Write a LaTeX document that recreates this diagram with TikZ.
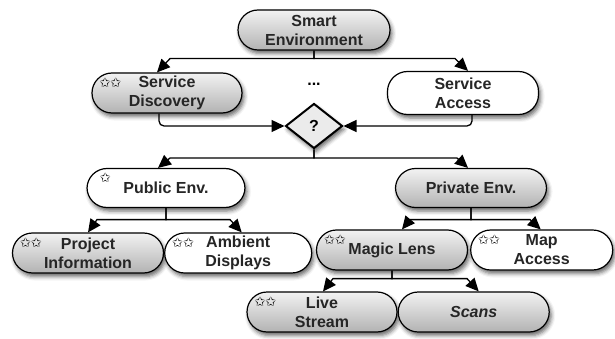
\documentclass[tikz,border=0pt]{standalone}
\usepackage{fontspec}
\setmainfont{Liberation Sans}
\newfontfamily\starfont{DejaVu Sans}
\usetikzlibrary{positioning,calc,arrows.meta,shapes.geometric,shadows.blur}

\tikzset{
  box/.style={draw, line width=1.2pt, rounded corners=20pt,
    minimum height=40pt, minimum width=150pt, inner sep=2pt, align=center,
    font=\fontsize{16}{19}\selectfont\bfseries, text=black!85,
    blur shadow={shadow xshift=2pt, shadow yshift=-3.5pt,
      shadow blur radius=4pt, shadow opacity=60}},
  greybox/.style={box, top color=black!5, bottom color=black!30},
  whitebox/.style={box, fill=white},
  rating/.style={font=\starfont\fontsize{13}{13}\selectfont, anchor=center,
    inner sep=0pt, xshift=19pt, yshift=-10pt},
  stars/.style={label={[rating]north west:#1}},
  trunk/.style={line width=1.3pt},
  branch/.style={line width=1.3pt, -{Triangle[length=13pt,width=12pt]}},
}

\begin{document}
\begin{tikzpicture}[x=1pt, y=-1pt]
    \useasboundingbox (0,0) rectangle (615,339);
    % top level
    \node[greybox, minimum width=152pt] (env) at (314,30) {Smart\\Environment};
    \node[greybox, stars=✩✩] (disc) at (167,93) {Service\\Discovery};
    \node[whitebox, minimum width=151pt, minimum height=43pt] (access) at (463,93) {Service\\Access};
    \node[font=\fontsize{16}{19}\selectfont\bfseries] (dots) at (314,84) {...};
    % decision
    \node[diamond, draw, line width=2pt, fill=black!8, aspect=1.27,
      minimum width=57pt, minimum height=45pt, inner sep=0pt,
      font=\fontsize{16}{19}\selectfont\bfseries,
      blur shadow={shadow xshift=2pt, shadow yshift=-3.5pt, shadow blur radius=4pt, shadow opacity=60}]
      (ask) at (314,126) {?};
    % environments
    \node[whitebox, minimum width=158pt, minimum height=39pt, stars=✩] (public) at (166,188) {Public Env.};
    \node[greybox, minimum width=151pt, minimum height=39pt] (private) at (471,188) {Private Env.};
    % public side
    \node[greybox, minimum width=151pt, stars=✩✩] (proj) at (88,253) {Project\\Information};
    \node[whitebox, minimum width=147pt, right=0pt of proj, stars=✩✩] (amb) {Ambient\\Displays};
    % private side
    \node[greybox, minimum width=151pt, stars=✩✩] (magic) at (392,250) {Magic Lens};
    \node[whitebox, minimum width=142pt, right=2pt of magic, stars=✩✩] (map) {Map\\Access};
    \node[greybox, stars=✩✩] (live) at (322,312) {Live\\Stream};
    \node[greybox, minimum width=151pt, right=0pt of live,
      font=\fontsize{16}{19}\selectfont\bfseries\itshape] (scans) {Scans};
    % connectors
    \draw[branch] (env.south) |- ++(-144,8) -- ($(disc.north)+(-10,0)$);
    \draw[branch] (env.south) |- ++(141,8) -- ($(access.north)+(5,0)$);
    \draw[branch, rounded corners=5pt] ($(disc.south)+(-8,0)$) |- (ask.west);
    \draw[branch, rounded corners=5pt] ($(access.south)+(9,0)$) |- (ask.east);
    \draw[branch] (ask.south) |- ++(-144,8.5) -- ($(public.north)+(-8,0)$);
    \draw[branch] (ask.south) |- ++(143,8.5) -- ($(private.north)+(-3,0)$);
    \draw[branch] (public.south) |- ++(-69,11.5) -- (proj.north);
    \draw[branch] (public.south) |- ++(64,11.5) -- ($(amb.north)+(3.5,0)$);
    \draw[branch] (private.south) |- ++(-61,11.5) -- ($(magic.north)+(10,0)$);
    \draw[branch] (private.south) |- ++(59,11.5) -- ($(map.north)+(-1,0)$);
    \draw[branch] (magic.south) |- ++(-59,8) -- ($(live.north)+(1,0)$);
    \draw[branch] (magic.south) |- ++(75,8) -- ($(scans.north)+(5,0)$);
\end{tikzpicture}
\end{document}
